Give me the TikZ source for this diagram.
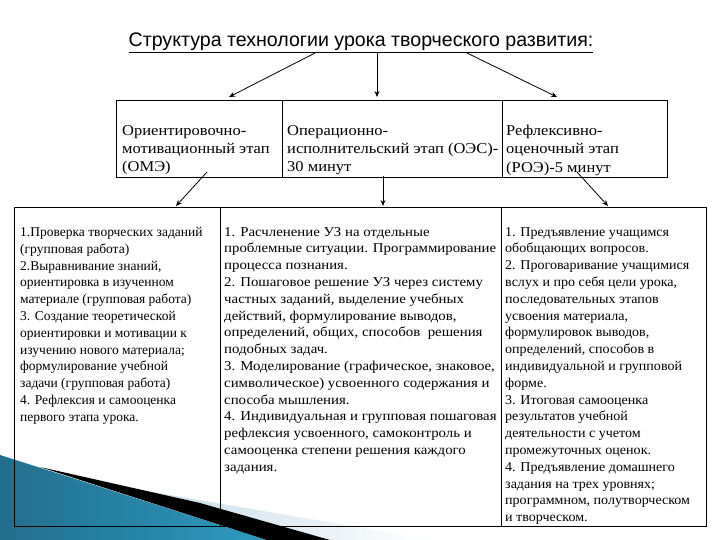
\documentclass[tikz,border=0pt]{standalone}
\usepackage{fontspec}
\setmainfont{Liberation Serif}
\newfontfamily\titlefont{Liberation Sans}
\newfontfamily\widetop[FakeStretch=1.1]{Liberation Serif}
\newfontfamily\widemid[FakeStretch=1.1]{Liberation Serif}
\newfontfamily\wideright[FakeStretch=1.04]{Liberation Serif}
\usetikzlibrary{arrows.meta}
\definecolor{tealdark}{HTML}{226E8D}
\definecolor{tealmid}{HTML}{55B4D6}
\definecolor{tealend}{HTML}{2E9AC0}
\definecolor{lightband}{HTML}{C6DCE8}
\begin{document}
\begin{tikzpicture}[x=1pt,y=-1pt,
  cell/.style={draw, line width=0.8pt, inner sep=0pt, outer sep=0pt, anchor=north west},
  txt/.style={inner sep=0pt, anchor=north west, align=left, font=\fontsize{13.5}{16.8}\selectfont},
  toptxt/.style={inner sep=0pt, anchor=north west, align=left, font=\widetop\fontsize{15}{18.3}\selectfont},
  arr/.style={-{Stealth[length=6pt,width=5pt]}, line width=0.8pt}]
\useasboundingbox (0,0) rectangle (720,540);
% decoration bottom-left
\begin{scope}[y=1pt]
\shade[left color=lightband, right color=white] (140,-490) -- (435,-540) -- (330,-540) -- (200,-503) -- cycle;
\shade[left color=tealdark, middle color=tealmid, right color=tealend] (0,-455) -- (267,-540) -- (0,-540) -- cycle;
\fill[black] (40,-467) -- (200,-503) -- (330,-540) -- (267,-540) -- cycle;
\end{scope}
% title
\node[font=\titlefont\fontsize{19.6}{21}\selectfont, inner sep=0pt, anchor=base] (title) at (361,47) {\underline{Структура технологии урока творческого развития:}};
% top cells
\node[cell, minimum width=166pt, minimum height=77pt] (c1) at (116,100) {};
\node[cell, minimum width=220pt, minimum height=77pt] (c2) at (282,100) {};
\node[cell, minimum width=165pt, minimum height=77pt] (c3) at (502,100) {};
\node[toptxt] (t1) at (122,125) {Ориентировочно-\\мотивационный этап\\(ОМЭ)};
\node[toptxt] (t2) at (287,125) {Операционно-\\исполнительский этап (ОЭС)-\\30 минут};
\node[toptxt] (t3) at (506,125) {Рефлексивно-\\оценочный этап\\(РОЭ)-5 минут};
% bottom cells
\node[cell, minimum width=206pt, minimum height=319pt] (d1) at (14,207) {};
\node[cell, minimum width=281pt, minimum height=319pt] (d2) at (220,207) {};
\node[cell, minimum width=205pt, minimum height=319pt] (d3) at (501,207) {};
\node[txt] (u1) at (20,227) {1.Проверка творческих заданий\\(групповая работа)\\2.Выравнивание знаний,\\ориентировка в изученном\\материале (групповая работа)\\3. Создание теоретической\\ориентировки и мотивации к\\изучению нового материала;\\формулирование учебной\\задачи (групповая работа)\\4. Рефлексия и самооценка\\первого этапа урока.};
\node[txt, font=\widemid\fontsize{13.5}{16.8}\selectfont] (u2) at (224,227) {1. Расчленение УЗ на отдельные\\проблемные ситуации. Программирование\\процесса познания.\\2. Пошаговое решение УЗ через систему\\частных заданий, выделение учебных\\действий, формулирование выводов,\\определений, общих, способов\ \ решения\\подобных задач.\\3. Моделирование (графическое, знаковое,\\символическое) усвоенного содержания и\\способа мышления.\\4. Индивидуальная и групповая пошаговая\\рефлексия усвоенного, самоконтроль и\\самооценка степени решения каждого\\задания.};
\node[txt, font=\wideright\fontsize{13.5}{16.8}\selectfont] (u3) at (505,227) {1. Предъявление учащимся\\обобщающих вопросов.\\2. Проговаривание учащимися\\вслух и про себя цели урока,\\последовательных этапов\\усвоения материала,\\формулировок выводов,\\определений, способов в\\индивидуальной и групповой\\форме.\\3. Итоговая самооценка\\результатов учебной\\деятельности с учетом\\промежуточных оценок.\\4. Предъявление домашнего\\задания на трех уровнях;\\программном, полутворческом\\и творческом.};
% arrows
\coordinate (a1s) at (317,52); \coordinate (a1e) at (229,97);
\coordinate (a2s) at (377,52); \coordinate (a2e) at (377,97);
\coordinate (a3s) at (467,53); \coordinate (a3e) at (557,97);
\draw[arr] (a1s) -- (a1e);
\draw[arr] (a2s) -- (a2e);
\draw[arr] (a3s) -- (a3e);
\coordinate (b1s) at (207,172); \coordinate (b1e) at (176,206);
\coordinate (b2s) at (383,176); \coordinate (b2e) at (383,206);
\coordinate (b3s) at (577,172); \coordinate (b3e) at (608,206);
\draw[arr] (b1s) -- (b1e);
\draw[arr] (b2s) -- (b2e);
\draw[arr] (b3s) -- (b3e);
\end{tikzpicture}
\end{document}
